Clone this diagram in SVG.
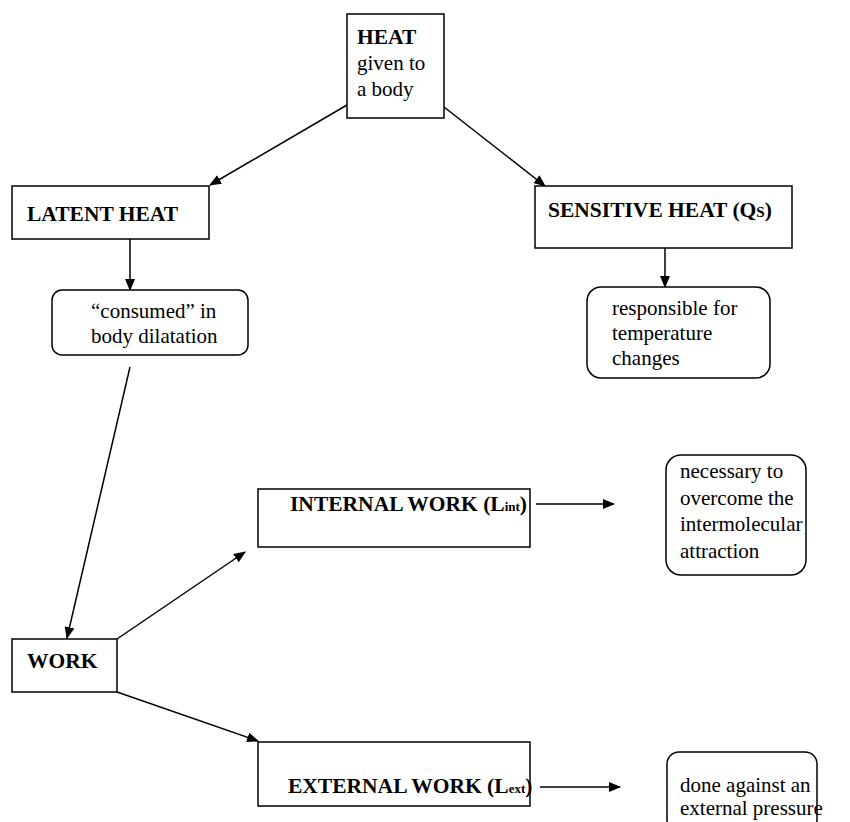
<svg xmlns="http://www.w3.org/2000/svg" width="850" height="822" viewBox="0 0 850 822">
<defs>
<marker id="ah" markerWidth="12" markerHeight="10" refX="11" refY="5" orient="auto" markerUnits="userSpaceOnUse">
<path d="M0,0 L12,5 L0,10 Z" fill="#000"/>
</marker>
<style>
.box{fill:#fff;stroke:#000;stroke-width:1.5}
.t{font-family:"Liberation Serif","Times New Roman",serif;font-size:21px;fill:#000}
.b{font-weight:bold;font-size:21.5px}
.c{stroke:#000;stroke-width:1.5;fill:none;marker-end:url(#ah)}
</style>
</defs>
<rect width="850" height="822" fill="#fff"/>
<g id="connectors">
<line class="c" x1="347" y1="105" x2="210" y2="185"/>
<line class="c" x1="444" y1="107" x2="545" y2="186"/>
<line class="c" x1="130" y1="239" x2="130" y2="290"/>
<line class="c" x1="665" y1="248" x2="665" y2="287"/>
<line class="c" x1="130" y1="367" x2="67" y2="638"/>
<line class="c" x1="117" y1="639" x2="245" y2="552"/>
<line class="c" x1="117" y1="692" x2="258" y2="741"/>
<line class="c" x1="536" y1="504" x2="614" y2="504"/>
<line class="c" x1="540" y1="787" x2="620" y2="787"/>
</g>
<g id="heat">
<rect class="box" x="347" y="14" width="97" height="104"/>
<text class="t b" x="357" y="44">HEAT</text>
<text class="t" x="357" y="70">given to</text>
<text class="t" x="357" y="96">a body</text>
</g>
<g id="latent">
<rect class="box" x="12" y="186" width="197" height="53"/>
<text class="t b" x="27" y="221">LATENT HEAT</text>
</g>
<g id="sensitive">
<rect class="box" x="535" y="186" width="257" height="62"/>
<text class="t b" x="548" y="217">SENSITIVE HEAT (Q<tspan font-size="15">S</tspan>)</text>
</g>
<g id="responsible">
<rect class="box" x="587" y="287" width="183" height="91" rx="14"/>
<text class="t" x="612" y="315">responsible for</text>
<text class="t" x="612" y="340">temperature</text>
<text class="t" x="612" y="365">changes</text>
</g>
<g id="consumed">
<rect class="box" x="52" y="290" width="196" height="65" rx="10"/>
<text class="t" x="91" y="318">“consumed” in</text>
<text class="t" x="91" y="343">body dilatation</text>
</g>
<g id="work">
<rect class="box" x="12" y="639" width="105" height="53"/>
<text class="t b" x="27" y="668">WORK</text>
</g>
<g id="internal">
<rect class="box" x="258" y="489" width="272" height="58"/>
<text class="t b" x="290" y="511">INTERNAL WORK (L<tspan font-size="13">int</tspan>)</text>
</g>
<g id="necessary">
<rect class="box" x="666" y="455" width="140" height="120" rx="15"/>
<text class="t" x="680" y="478">necessary to</text>
<text class="t" x="680" y="505">overcome the</text>
<text class="t" x="680" y="531">intermolecular</text>
<text class="t" x="680" y="558">attraction</text>
</g>
<g id="external">
<rect class="box" x="258" y="742" width="272" height="64"/>
<text class="t b" x="288" y="793">EXTERNAL WORK (L<tspan font-size="13">ext</tspan>)</text>
</g>
<g id="done">
<rect class="box" x="667" y="752" width="150" height="80" rx="12"/>
<text class="t" x="680" y="792" font-size="19">done against an</text>
<text class="t" x="680" y="815" font-size="19">external pressure</text>
</g>
</svg>
